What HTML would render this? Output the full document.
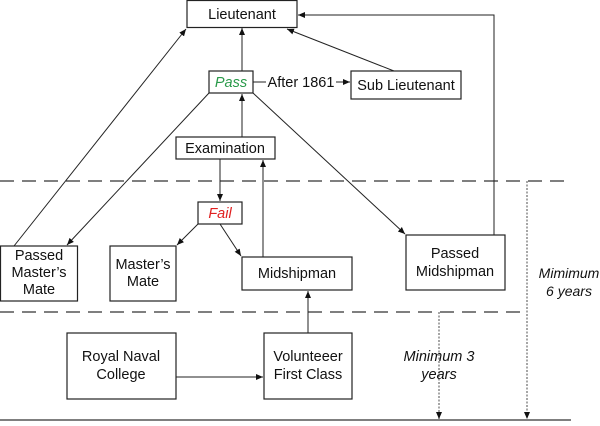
<!DOCTYPE html>
<html><head><style>
body{margin:0;background:#fff;}
svg text{font-family:"Liberation Sans",Arial,sans-serif;font-size:14.5px;fill:#111;}
</style></head><body>
<svg width="600" height="421" viewBox="0 0 600 421" xmlns="http://www.w3.org/2000/svg">
<defs><marker id="a" markerWidth="8" markerHeight="8" refX="7" refY="4" orient="auto" markerUnits="userSpaceOnUse"><path d="M0,1 L7,4 L0,7 Z" fill="#111"/></marker></defs>
<g stroke="#444" stroke-width="1.3" fill="none">
<line x1="0" y1="181" x2="572" y2="181" stroke-dasharray="14,8" stroke="#333"/>
<line x1="0" y1="312" x2="521" y2="312" stroke-dasharray="14,8" stroke="#333"/>
<line x1="0" y1="420" x2="571" y2="420" stroke="#333"/>
<line x1="527" y1="181" x2="527" y2="419" stroke-dasharray="2,1.5" stroke="#777" marker-end="url(#a)"/>
<line x1="439" y1="312" x2="439" y2="419" stroke-dasharray="2,1.5" stroke="#777" marker-end="url(#a)"/>
</g>
<g stroke="#222" stroke-width="1" fill="none">
<line x1="14" y1="246" x2="186" y2="29" marker-end="url(#a)"/>
<line x1="209" y1="93" x2="67" y2="245" marker-end="url(#a)"/>
<line x1="242" y1="71" x2="242" y2="28" marker-end="url(#a)"/>
<line x1="394" y1="71" x2="287" y2="29" marker-end="url(#a)"/>
<line x1="253" y1="82" x2="266" y2="82"/>
<line x1="336" y1="82" x2="350" y2="82" marker-end="url(#a)"/>
<line x1="242" y1="137" x2="242" y2="94" marker-end="url(#a)"/>
<line x1="220" y1="159" x2="220" y2="201" marker-end="url(#a)"/>
<line x1="263" y1="257" x2="263" y2="160" marker-end="url(#a)"/>
<line x1="253" y1="93" x2="405" y2="234" marker-end="url(#a)"/>
<line x1="198" y1="224" x2="177" y2="245" marker-end="url(#a)"/>
<line x1="220" y1="224" x2="241" y2="256" marker-end="url(#a)"/>
<line x1="308" y1="333" x2="308" y2="291" marker-end="url(#a)"/>
<line x1="176" y1="377" x2="263" y2="377" marker-end="url(#a)"/>
<polyline points="494,235 494,15 298,15" marker-end="url(#a)"/>
</g>
<g stroke="#222" stroke-width="1.2" fill="#fff">
<rect x="187" y="0.5" width="110" height="27"/>
<rect x="209" y="71" width="44" height="22"/>
<rect x="351" y="71" width="110" height="28"/>
<rect x="176" y="137" width="99" height="22"/>
<rect x="198" y="202" width="44" height="22"/>
<rect x="0.5" y="246" width="77" height="55"/>
<rect x="110" y="246" width="66" height="55"/>
<rect x="242" y="257" width="110" height="33"/>
<rect x="406" y="235" width="99" height="55"/>
<rect x="67" y="333" width="109" height="66"/>
<rect x="264" y="333" width="88" height="66"/>
</g>
<g text-anchor="middle">
<text x="242" y="19">Lieutenant</text>
<text x="231" y="87" style="fill:#2a9a4a;font-style:italic">Pass</text>
<text x="301" y="87">After 1861</text>
<text x="406" y="90">Sub Lieutenant</text>
<text x="225" y="153">Examination</text>
<text x="220" y="218" style="fill:#e02020;font-style:italic">Fail</text>
<text x="39" y="260">Passed</text><text x="39" y="277">Master’s</text><text x="39" y="294">Mate</text>
<text x="143" y="269">Master’s</text><text x="143" y="286">Mate</text>
<text x="297" y="278">Midshipman</text>
<text x="455" y="258">Passed</text><text x="455" y="276">Midshipman</text>
<text x="121" y="361">Royal Naval</text><text x="121" y="379">College</text>
<text x="308" y="361">Volunteeer</text><text x="308" y="379">First Class</text>
<g style="font-style:italic">
<text x="439" y="361">Minimum 3</text><text x="439" y="379">years</text>
<text x="569" y="278" style="font-size:14px">Mimimum</text><text x="569" y="296" style="font-size:14px">6 years</text>
</g>
</g>
</svg>
</body></html>
